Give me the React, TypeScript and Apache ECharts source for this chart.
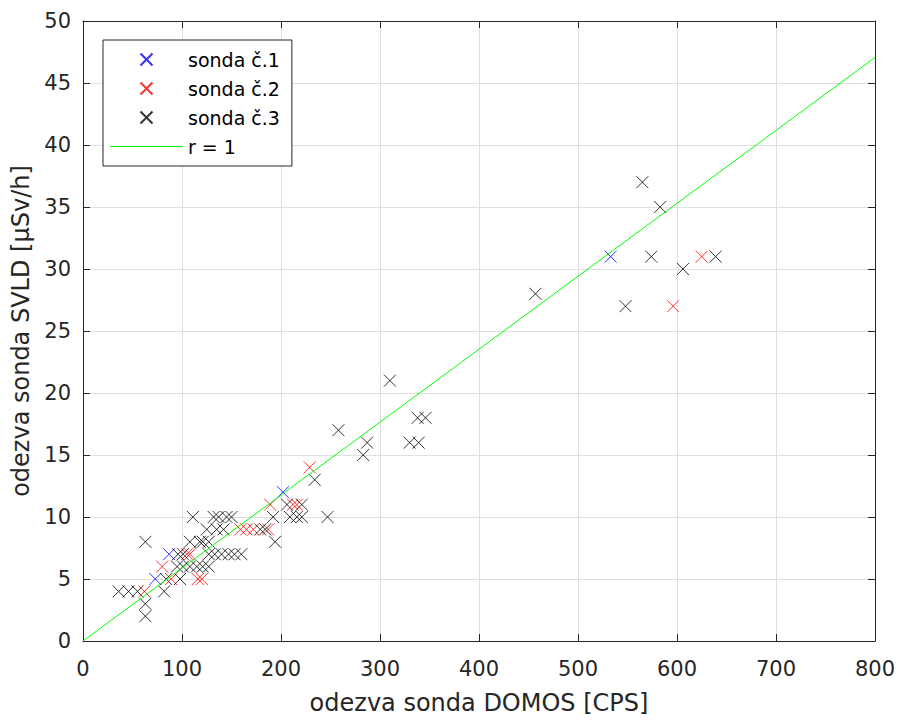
import React, { useEffect, useRef } from "react";
import * as echarts from "echarts";

// sonda č.1 (blue)
const probe1X = [73, 87, 202, 533];
const probe1Y = [5, 7, 12, 31];
// sonda č.2 (red)
const probe2X = [62, 80, 89, 105, 108, 116, 120, 159, 165, 172, 187, 189, 212, 216, 229, 596, 625];
const probe2Y = [4, 6, 5, 7, 7, 5, 5, 9, 9, 9, 9, 11, 11, 11, 14, 27, 31];
// sonda č.3 (black)
const probe3X = [
  36, 46, 55, 63, 63, 63, 82, 84, 95, 98, 101, 108, 115, 121, 127, 96, 101, 127, 133, 140, 147, 153, 160,
  108, 118, 121, 127, 194, 125, 135, 142, 179, 184, 111, 132, 137, 145, 150, 192, 209, 216, 221, 247,
  206, 221, 234, 283, 287, 330, 339, 258, 338, 346, 310, 457, 548, 574, 606, 639, 565, 583,
];
const probe3Y = [
  4, 4, 4, 3, 2, 8, 4, 5, 6, 5, 6, 6, 6, 6, 6, 7, 7, 7, 7, 7, 7, 7, 7,
  8, 8, 8, 8, 8, 9, 9, 9, 9, 9, 10, 10, 10, 10, 10, 10, 10, 10, 10, 10,
  11, 11, 13, 15, 16, 16, 16, 17, 18, 18, 21, 28, 27, 31, 30, 31, 37, 35,
];
// r = 1 line
const refLineX = [0, 800];
const refLineY = [0, 47.06];

const xTicks = { min: 0, max: 800, interval: 100 };
const yTicks = { min: 0, max: 50, interval: 5 };

const names = ["sonda č.1", "sonda č.2", "sonda č.3", "r = 1"];

const FONT = "DejaVu Sans";
const TXT = "#262626";
const X_SYMBOL = "path://M0,0L12,12M12,0L0,12";
const X_LEGEND = "path://M0,0M73,12M30.5,0L42.5,12M42.5,0L30.5,12";
const LINE_LEGEND = "path://M0,0M73,12M0,5.5L73,5.5L73,6.5L0,6.5Z";

const zip = (xs: number[], ys: number[]) => xs.map((x, i) => [x, ys[i]]);

export default function App() {
  const ref = useRef<HTMLDivElement>(null);
  useEffect(() => {
    document.body.style.margin = "0";
    const chart = echarts.init(ref.current!, undefined, { renderer: "svg" });
    const scatter = (name: string, color: string, data: number[][]) => ({
      type: "scatter",
      name,
      data,
      symbol: X_SYMBOL,
      symbolSize: 12,
      itemStyle: { color: "transparent", borderColor: color, borderWidth: 1 },
      emphasis: { disabled: true },
      z: 2,
    });
    const axisCommon = {
      type: "value",
      axisLine: { show: true, onZero: false, lineStyle: { color: TXT, width: 1 } },
      axisTick: { show: true, inside: true, length: 7, lineStyle: { color: TXT } },
    };
    chart.setOption({
      animation: false,
      backgroundColor: "#ffffff",
      grid: { left: 83, top: 21, width: 792, height: 623, containLabel: false },
      legend: {
        orient: "vertical",
        left: 103,
        top: 40,
        itemWidth: 73,
        itemHeight: 12,
        itemGap: 10,
        padding: [10, 12, 10, 6],
        borderColor: TXT,
        borderWidth: 1,
        borderRadius: 0,
        backgroundColor: "#ffffff",
        selectedMode: false,
        textStyle: { fontFamily: FONT, fontSize: 19, color: "#000", lineHeight: 19 },
        data: [
          { name: names[0], icon: X_LEGEND },
          { name: names[1], icon: X_LEGEND },
          { name: names[2], icon: X_LEGEND },
          { name: names[3], icon: LINE_LEGEND, itemStyle: { color: "#00ff00", borderWidth: 0 } },
        ],
      },
      xAxis: [
        {
          ...axisCommon,
          ...xTicks,
          position: "bottom",
          name: "odezva sonda DOMOS [CPS]",
          nameLocation: "middle",
          nameGap: 50,
          nameTextStyle: { fontFamily: FONT, fontSize: 24, color: TXT },
          axisLabel: { fontFamily: FONT, fontSize: 21, color: TXT, margin: 17 },
          splitLine: { show: true, lineStyle: { color: "#dfdfdf", width: 1 } },
        },
        {
          ...axisCommon,
          ...xTicks,
          position: "top",
          axisLabel: { show: false },
          splitLine: { show: false },
        },
      ],
      yAxis: [
        {
          ...axisCommon,
          ...yTicks,
          position: "left",
          name: "odezva sonda SVLD [μSv/h]",
          nameLocation: "middle",
          nameGap: 50,
          nameTextStyle: { fontFamily: FONT, fontSize: 24, color: TXT },
          axisLabel: { fontFamily: FONT, fontSize: 21, color: TXT, margin: 12 },
          splitLine: { show: true, lineStyle: { color: "#dfdfdf", width: 1 } },
        },
        {
          ...axisCommon,
          ...yTicks,
          position: "right",
          axisLabel: { show: false },
          splitLine: { show: false },
        },
      ],
      series: [
        scatter(names[0], "#0000ff", zip(probe1X, probe1Y)),
        scatter(names[1], "#ff0000", zip(probe2X, probe2Y)),
        scatter(names[2], "#000000", zip(probe3X, probe3Y)),
        {
          type: "line",
          name: names[3],
          data: zip(refLineX, refLineY),
          symbol: "none",
          lineStyle: { color: "#00ff00", width: 1 },
          itemStyle: { color: "#00ff00" },
          emphasis: { disabled: true },
          z: 3,
        },
      ],
    });
    return () => chart.dispose();
  }, []);
  return (
    <div
      ref={ref}
      style={{ position: "absolute", left: 0, top: 0, width: 899, height: 720 }}
    />
  );
}
